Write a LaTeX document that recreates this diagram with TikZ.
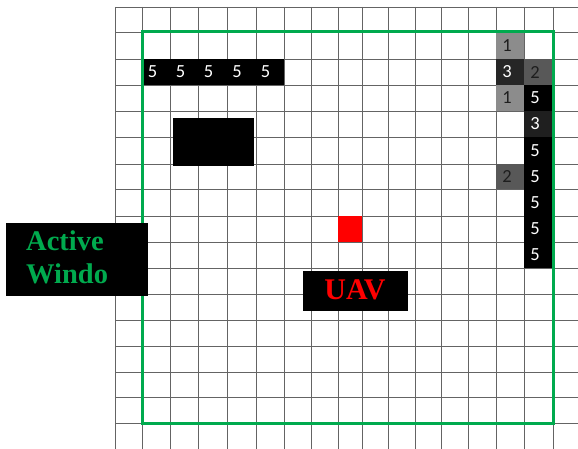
\documentclass[tikz,border=0pt]{standalone}
\usepackage{fontspec}
\setmainfont{Liberation Serif}
\newfontfamily\calib{Carlito}
\definecolor{exgreen}{RGB}{0,170,78}
\definecolor{gridgray}{RGB}{100,100,100}
\definecolor{lightcell}{RGB}{140,140,140}
\definecolor{midcell}{RGB}{88,88,88}
\definecolor{darkcell}{RGB}{38,38,38}
\definecolor{digitdark}{RGB}{30,30,30}
\tikzset{
  gridline/.style={draw=gridgray, line width=0.9pt},
  num/.style={font=\calib\fontsize{18.5}{18.5}\selectfont, inner sep=0pt, anchor=center},
  whitenum/.style={num, text=white},
  darknum/.style={num, text=digitdark},
  window/.style={draw=exgreen, line width=3pt},
  labelbox/.style={fill=black, inner sep=0pt},
  bigtext/.style={font=\bfseries\fontsize{28.5}{33}\selectfont, inner sep=0pt, anchor=base west}
}
\begin{document}
\begin{tikzpicture}[x=1pt,y=-1pt]
\useasboundingbox (0,0) rectangle (578,449);
\fill[white] (0,0) rectangle (578,449);
% grid
\foreach \x in {115,142,170,198,227,256,284,311,338,362,388,415,441,468,496,524,553}
  \draw[gridline] (\x,7) -- (\x,449);
\foreach \y in {7,32,59,85,111,137,164,189,216,242,268,294,320,346,372,397,423}
  \draw[gridline] (115,\y) -- (578,\y);
% top row of fives
\fill[black] (142,59) rectangle (284,85);
\node[whitenum] (f1) at (152.5,72) {5};
\node[whitenum] (f2) at (180.5,72) {5};
\node[whitenum] (f3) at (208.5,72) {5};
\node[whitenum] (f4) at (237,72) {5};
\node[whitenum] (f5) at (265.5,72) {5};
% right columns
\fill[lightcell] (496,32) rectangle (524,59);
\node[darknum] (c1) at (507,45.5) {1};
\fill[darkcell] (496,59) rectangle (524,85);
\node[whitenum] (c2) at (507,72) {3};
\fill[lightcell] (496,85) rectangle (524,111);
\node[darknum] (c3) at (507,98) {1};
\fill[midcell] (496,164) rectangle (524,189);
\node[darknum] (c4) at (507,176.5) {2};
\fill[midcell] (524,59) rectangle (553,85);
\node[darknum] (d0) at (535,72) {2};
\fill[black] (524,85) rectangle (553,268);
\fill[black!88] (524,111) rectangle (553,137);
\node[whitenum] (d1) at (535,98) {5};
\node[whitenum] (d2) at (535,124) {3};
\node[whitenum] (d3) at (535,150.5) {5};
\node[whitenum] (d4) at (535,176.5) {5};
\node[whitenum] (d5) at (535,202.5) {5};
\node[whitenum] (d6) at (535,229) {5};
\node[whitenum] (d7) at (535,255) {5};
% obstacle
\fill[black] (173,118) rectangle (254,166);
% UAV cell
\fill[red] (338,216) rectangle (362,242);
% active window
\draw[window] (142,32) rectangle (553,423);
% labels
\node[labelbox, minimum width=142pt, minimum height=73pt] (awbox) at (77,259.5) {};
\node[bigtext, text=exgreen] (aw1) at (26,250) {Active};
\node[bigtext, text=exgreen] (aw2) at (26,283) {Windo};
\node[labelbox, minimum width=105pt, minimum height=40pt] (uavbox) at (355.5,291) {};
\node[bigtext, text=red, anchor=base, font=\bfseries\fontsize{30}{33}\selectfont] (uav) at (355,299.5) {UAV};
\end{tikzpicture}
\end{document}
